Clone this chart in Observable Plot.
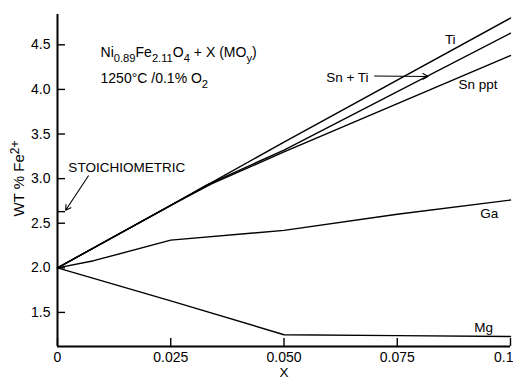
<!DOCTYPE html>
<html><head><meta charset="utf-8">
<script src="https://cdn.jsdelivr.net/npm/d3@7"></script>
<script src="https://cdn.jsdelivr.net/npm/@observablehq/plot@0.6"></script>
<style>body{margin:0;background:#fff;}</style>
</head><body><div id="chart"></div>
<script>
// ---- data ----
const xTicks = [0, 0.025, 0.05, 0.075, 0.1];
const xTickLabels = ["0", "0.025", "0.050", "0.075", "0.1"];
const yTicks = [1.5, 2.0, 2.5, 3.0, 3.5, 4.0, 4.5];
const yTickLabels = ["1.5", "2.0", "2.5", "3.0", "3.5", "4.0", "4.5"];
const stoichValue = 2.63;

const seriesTi   = [[0, 2.0], [0.025, 2.70], [0.05, 3.41], [0.1, 4.80]];
const seriesSnTi = [[0, 2.0], [0.025, 2.70], [0.033, 2.93], [0.05, 3.32], [0.1, 4.63]];
const seriesSnPpt= [[0, 2.0], [0.025, 2.70], [0.034, 2.94], [0.05, 3.30], [0.1, 4.38]];
const seriesGa   = [[0, 2.0], [0.008, 2.08], [0.025, 2.31], [0.05, 2.42], [0.075, 2.60], [0.1, 2.76]];
const seriesMg   = [[0, 2.0], [0.025, 1.63], [0.05, 1.25], [0.075, 1.24], [0.1, 1.23]];

const seriesNames = ["Ti", "Sn + Ti", "Sn ppt", "Ga", "Mg"];
const seriesData = [seriesTi, seriesSnTi, seriesSnPpt, seriesGa, seriesMg];

const titleLines = ["Ni_{0.89}Fe_{2.11}O_{4} + X (MO_{y})", "1250°C /0.1% O_{2}"];
const yLabel = "WT % Fe^{2+}";
const xLabel = "X";
const stoichLabel = "STOICHIOMETRIC";

// ---- annotation placement (data coordinates) ----
const rows = [];
seriesNames.forEach((s, i) => seriesData[i].forEach(([x, y]) => rows.push({series: s, x, y})));

const seriesLabels = [
  {text: "Ti", x: 0.0867, y: 4.56, anchor: "middle"},
  {text: "Sn ppt", x: 0.0885, y: 4.05, anchor: "start"},
  {text: "Ga", x: 0.0933, y: 2.61, anchor: "start"},
  {text: "Mg", x: 0.0920, y: 1.33, anchor: "start"},
  {text: "Sn + Ti", x: 0.0593, y: 4.13, anchor: "start"},
  {text: stoichLabel, x: 0.0024, y: 3.12, anchor: "start"}
];
const titleAnno = [
  {text: titleLines[0], x: 0.0095, y: 4.41},
  {text: titleLines[1], x: 0.0095, y: 4.12}
];
const arrows = [
  {x1: 0.0068, y1: 3.03, x2: 0.0018, y2: 2.645},
  {x1: 0.0700, y1: 4.15, x2: 0.0818, y2: 4.145}
];

// ---- layout ----
const W = 513, H = 379, mL = 57, mR = 3, mT = 14, mB = 33;
const frameW = W - mL - mR, frameH = H - mT - mB;
const tickLen = 8;
const font = "Liberation Sans, Arial, sans-serif";
const yDomain = [1.118, 4.84];
const lastX = xTicks.length - 1;

const chart = Plot.plot({
  width: W,
  height: H,
  marginLeft: mL,
  marginRight: mR,
  marginTop: mT,
  marginBottom: mB,
  style: {fontFamily: font, fontSize: "13px", color: "#000", background: "#fff"},
  x: {domain: [0, 0.1], axis: null},
  y: {domain: yDomain},
  marks: [
    Plot.axisY(yTicks, {tickSize: 0, tickPadding: 7, tickFormat: (d) => yTickLabels[yTicks.indexOf(d)], fontSize: 14, label: null}),
    Plot.tickY([...yTicks, stoichValue], {y: d => d, insetRight: frameW - tickLen, stroke: "#000", strokeWidth: 1.4}),
    Plot.tickX(xTicks, {x: d => d, insetTop: frameH - tickLen, stroke: "#000", strokeWidth: 1.4}),
    Plot.text(xTicks.slice(0, lastX), {x: d => d, frameAnchor: "bottom", lineAnchor: "middle", dy: 11, text: (d, i) => xTickLabels[i], fontSize: 14, fill: "#000"}),
    Plot.text([xTicks[lastX]], {x: d => d, frameAnchor: "bottom", lineAnchor: "middle", dy: 11, dx: 3, textAnchor: "end", text: () => xTickLabels[lastX], fontSize: 14, fill: "#000"}),
    Plot.ruleX([0], {strokeWidth: 2}),
    Plot.ruleY([yDomain[0]], {strokeWidth: 2}),
    Plot.line(rows, {x: "x", y: "y", z: "series", stroke: "#000", strokeWidth: 1.4}),
    Plot.arrow(arrows, {x1: "x1", y1: "y1", x2: "x2", y2: "y2", stroke: "#000", strokeWidth: 1.1, headLength: 8, bend: 0}),
    Plot.text(seriesLabels.filter(d => d.anchor === "start"), {x: "x", y: "y", text: "text", textAnchor: "start", fontSize: 13.5, fill: "#000"}),
    Plot.text(seriesLabels.filter(d => d.anchor === "middle"), {x: "x", y: "y", text: "text", textAnchor: "middle", fontSize: 13.5, fill: "#000"}),
    Plot.text(titleAnno, {x: "x", y: "y", text: "text", textAnchor: "start", fontSize: 14, fill: "#000"}),
    Plot.text([yLabel], {frameAnchor: "left", textAnchor: "middle", lineAnchor: "middle", dx: -38, dy: -2, rotate: -90, text: d => d, fontSize: 15, fill: "#000", style: {letterSpacing: "1px"}}),
    Plot.text([xLabel], {frameAnchor: "bottom", lineAnchor: "middle", dy: 26, text: d => d, fontSize: 13.5, fill: "#000"})
  ]
});

// convert _{..} / ^{..} markup into sub/superscript tspans
d3.select(chart).selectAll("text").each(function () {
  const el = this;
  const tgt = el.querySelector("tspan") || el;
  const s = tgt.textContent;
  if (!/[_^]\{/.test(s)) return;
  const parts = [];
  const re = /([_^])\{([^}]*)\}/g;
  let last = 0, m;
  while ((m = re.exec(s))) {
    if (m.index > last) parts.push({t: s.slice(last, m.index), shift: 0});
    parts.push({t: m[2], shift: m[1] === "_" ? 5 : -5});
    last = re.lastIndex;
  }
  if (last < s.length) parts.push({t: s.slice(last), shift: 0});
  while (tgt.firstChild) tgt.removeChild(tgt.firstChild);
  let cur = 0;
  const ns = "http://www.w3.org/2000/svg";
  parts.forEach(p => {
    const ts = document.createElementNS(ns, "tspan");
    ts.textContent = p.t;
    const dy = p.shift - cur;
    if (dy !== 0) ts.setAttribute("dy", dy);
    if (p.shift !== 0) ts.setAttribute("font-size", "80%");
    cur = p.shift;
    tgt.appendChild(ts);
  });
});

document.getElementById("chart").appendChild(chart);
</script>
</body></html>
